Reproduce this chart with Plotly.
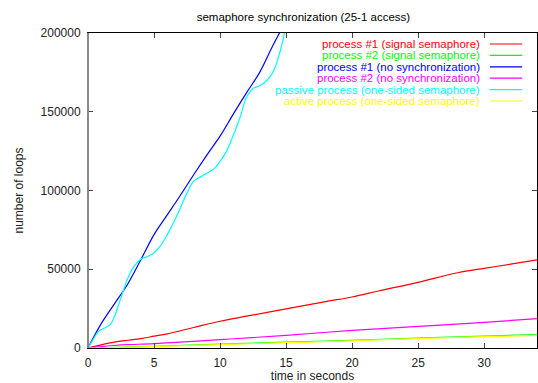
import plotly.graph_objects as go

# Loop counters sampled over time (seconds)
t_sig1 = [0, 1, 2, 3, 4, 5, 6, 8, 10, 12, 15, 18, 20, 22, 25, 28, 30, 32, 34]
sig1 = [0, 2000, 3700, 4900, 6000, 7500, 9000, 13000, 17000, 20200, 24800, 29500, 32400, 36200, 41700, 47800, 50600, 53200, 56000]

t_sig2 = [0, 5, 10, 15, 20, 25, 30, 34]
sig2 = [0, 1100, 2400, 3700, 4900, 6300, 7600, 8500]

t_nosync1 = [0, 1, 2, 3, 4, 5, 6, 7, 8, 9, 10, 11, 12, 13, 14, 15]
nosync1 = [0, 15500, 28000, 40500, 56000, 72000, 84500, 97000, 110000, 122500, 134500, 148500, 162000, 175000, 192000, 208000]

t_nosync2 = [0, 1, 2, 3, 5, 10, 15, 20, 25, 30, 34]
nosync2 = [0, 900, 1600, 2100, 2800, 5300, 8000, 11200, 13700, 16300, 18600]

t_passive = [0, 0.5, 0.8, 1.2, 1.7, 2.0, 2.5, 3.0, 3.5, 4.0, 4.5, 5.0, 5.5, 6.0, 6.5, 7.0, 7.5, 8.0,
             8.5, 9.0, 9.5, 10.0, 10.5, 11.0, 11.5, 12.0, 12.5, 13.0, 13.5, 14.0, 14.5, 15.0]
passive = [0, 7000, 10500, 12500, 15000, 20000, 32000, 44000, 52000, 56500, 58000, 60500, 65000, 72000,
           80000, 89000, 98500, 106000, 108500, 111000, 113500, 118500, 125000, 135000, 146000, 159000,
           164800, 166500, 169500, 175000, 187000, 205000]

t_active = [0, 5, 10, 15, 20, 25, 30, 34]
active = [0, 900, 2200, 3400, 4600, 6000, 7200, 8000]

names = [
    "process #1 (signal semaphore)",
    "process #2 (signal semaphore)",
    "process #1 (no synchronization)",
    "process #2 (no synchronization)",
    "passive process (one-sided semaphore)",
    "active process (one-sided semaphore)",
]
colors = ["#ff0000", "#00ff00", "#0000ff", "#ff00ff", "#00ffff", "#ffff00"]
series = [(t_sig1, sig1), (t_sig2, sig2), (t_nosync1, nosync1),
          (t_nosync2, nosync2), (t_passive, passive), (t_active, active)]

x_ticks = [0, 5, 10, 15, 20, 25, 30]
y_ticks = [0, 50000, 100000, 150000, 200000]

FONT = "Liberation Sans, Arial, sans-serif"

fig = go.Figure()
for (xs, ys), name, col in zip(series, names, colors):
    fig.add_trace(go.Scatter(
        x=xs, y=ys, mode="lines", name=name,
        line=dict(color=col, width=1.2, shape="spline"),
        showlegend=False,
    ))

# Key: right-aligned labels with a short line sample to their right
row_h = 11.4
for i, (name, col) in enumerate(zip(names, colors)):
    y_px = 44 + i * row_h
    yp = 1 - (y_px - 33) / 315
    fig.add_annotation(x=0.878, y=yp, xref="paper", yref="paper",
                       text=name, showarrow=False, xanchor="right", yanchor="middle",
                       font=dict(color=col, size=11.5, family=FONT))
    fig.add_shape(type="line", xref="paper", yref="paper",
                  x0=0.895, x1=0.967, y0=yp, y1=yp,
                  line=dict(color=col, width=1.2))

# Left border drawn grey as in the original style
fig.add_shape(type="line", xref="paper", yref="paper", x0=0, x1=0, y0=0, y1=1,
              line=dict(color="#888888", width=2), layer="above")

fig.update_layout(
    width=538, height=383,
    margin=dict(l=88, r=1, t=33, b=35),
    paper_bgcolor="white", plot_bgcolor="white",
    font=dict(family=FONT, size=12, color="black"),
    title=dict(text="semaphore synchronization (25-1 access)", x=0.564, xanchor="center",
               y=1 - 17 / 383, yanchor="middle", font=dict(size=11.5, family=FONT)),
    xaxis=dict(range=[0, 34], tickvals=x_ticks, ticks="inside", ticklen=5,
               showline=True, linecolor="black", linewidth=1, mirror="ticks",
               showgrid=False, zeroline=False, ticklabelstandoff=4,
               tickfont=dict(size=12, color="#222222"),
               title=dict(text="time in seconds", standoff=2, font=dict(size=12, color="#222222"))),
    yaxis=dict(range=[0, 200000], tickvals=y_ticks, ticks="inside", ticklen=5,
               showline=True, linecolor="black", linewidth=1, mirror="ticks",
               showgrid=False, zeroline=False, tickformat="d", ticklabelstandoff=4,
               tickfont=dict(size=12, color="#222222"),
               title=dict(text="number of loops", standoff=14, font=dict(size=12, color="#222222"))),
)

fig.write_html("out.html")
